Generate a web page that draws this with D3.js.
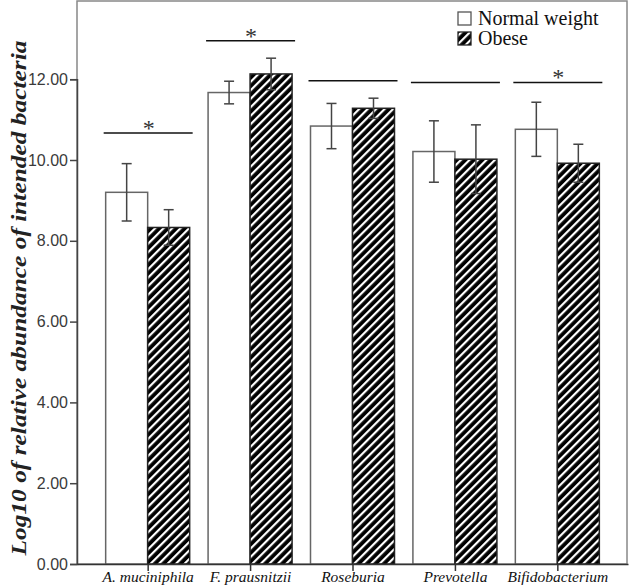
<!DOCTYPE html>
<html><head><meta charset="utf-8">
<script src="https://cdn.jsdelivr.net/npm/d3@7"></script>
<style>html,body{margin:0;padding:0;background:#fff;}svg{display:block;}
.serif{font-family:"Liberation Serif","Times New Roman","DejaVu Serif",serif !important;}
.sans{font-family:"Liberation Sans",Arial,"DejaVu Sans",sans-serif !important;}
</style>
</head><body>
<svg id="chart" width="629" height="588"></svg>
<script>
const categories = ["A. muciniphila", "F. prausnitzii", "Roseburia", "Prevotella", "Bifidobacterium"];
const seriesNames = ["Normal weight", "Obese"];
const normalMean = [9.20, 11.67, 10.84, 10.21, 10.76];
const normalErr  = [0.71, 0.28, 0.56, 0.76, 0.67];
const obeseMean  = [8.33, 12.13, 11.28, 10.02, 9.92];
const obeseErr   = [0.44, 0.39, 0.25, 0.85, 0.47];
const sigLevel   = [10.67, 12.95, 11.96, 11.92, 11.92];
const sigStar    = [true, true, false, false, true];
const yTicks = [0, 2, 4, 6, 8, 10, 12];

(function () {
const svg = d3.select("#chart");
const mLeft = 77, mRight = 627, mTop = 1, mBottom = 564;

const defs = svg.append("defs");
const pat = defs.append("pattern").attr("id", "hatch").attr("patternUnits", "userSpaceOnUse")
  .attr("width", 6).attr("height", 6).attr("patternTransform", "rotate(45)");
pat.append("rect").attr("width", 6).attr("height", 6).attr("fill", "#000");
pat.append("rect").attr("x", 0).attr("width", 2.2).attr("height", 6).attr("fill", "#fff");

const y = d3.scaleLinear().domain([0, 12]).range([mBottom, mBottom - 12 * 40.4]);
const x = d3.scalePoint().domain(categories).range([mLeft, mRight + 1]).padding(0.69);
const bw = 42;

svg.append("rect").attr("x", mLeft).attr("y", mTop).attr("width", mRight - mLeft).attr("height", mBottom - mTop)
  .attr("fill", "none").attr("stroke", "#888").attr("stroke-width", 1.5);

const groups = categories.map((c, i) => ({c, i}));

const bars = [];
groups.forEach(g => {
  bars.push({c: g.c, s: 0, v: normalMean[g.i], e: normalErr[g.i]});
  bars.push({c: g.c, s: 1, v: obeseMean[g.i], e: obeseErr[g.i]});
});
svg.selectAll("rect.bar").data(bars).join("rect").attr("class", "bar")
  .attr("x", d => x(d.c) + (d.s === 0 ? -bw : 0))
  .attr("y", d => y(d.v))
  .attr("width", bw)
  .attr("height", d => y(0) - y(d.v))
  .attr("fill", d => d.s === 0 ? "#fff" : "url(#hatch)")
  .attr("stroke", d => d.s === 0 ? "#666" : "#222")
  .attr("stroke-width", 1.5);

const cx = d => x(d.c) + (d.s === 0 ? -bw / 2 : bw / 2);
const eb = svg.selectAll("g.err").data(bars).join("g").attr("class", "err")
  .attr("stroke", "#444").attr("stroke-width", 1.5);
eb.append("line").attr("x1", cx).attr("x2", cx)
  .attr("y1", d => y(d.v + d.e)).attr("y2", d => y(d.v - d.e));
[1, -1].forEach(sg => {
  eb.append("line").attr("x1", d => cx(d) - 5).attr("x2", d => cx(d) + 5)
    .attr("y1", d => y(d.v + sg * d.e)).attr("y2", d => y(d.v + sg * d.e));
});

groups.forEach(g => {
  svg.append("line").attr("x1", x(g.c) - 44).attr("x2", x(g.c) + 45)
    .attr("y1", y(sigLevel[g.i])).attr("y2", y(sigLevel[g.i]))
    .attr("stroke", "#111").attr("stroke-width", 1.5);
  if (sigStar[g.i]) {
    svg.append("text").attr("class", "serif").attr("x", x(g.c) + 1).attr("y", y(sigLevel[g.i]) + 3)
      .attr("text-anchor", "middle").attr("font-size", 24).attr("fill", "#333").text("*");
  }
});

const yAxis = d3.axisLeft(y).tickValues(yTicks).tickFormat(d3.format(".2f")).tickSize(7).tickPadding(2);
const ya = svg.append("g").attr("transform", `translate(${mLeft},0)`).call(yAxis);
ya.attr("font-family", null);
ya.select(".domain").attr("stroke", "#444").attr("stroke-width", 1.5);
ya.selectAll(".tick line").attr("stroke", "#444").attr("stroke-width", 1.5);
ya.selectAll(".tick text").attr("class", "sans").attr("font-size", 16).attr("fill", "#3a3a3a");

const xAxis = d3.axisBottom(x).tickSize(7).tickPadding(0).tickSizeOuter(0);
const xa = svg.append("g").attr("transform", `translate(0,${mBottom})`).call(xAxis);
xa.attr("font-family", null);
xa.select(".domain").attr("stroke", "#333").attr("stroke-width", 1.5);
xa.selectAll(".tick line").attr("stroke", "#333").attr("stroke-width", 1.5);
xa.selectAll(".tick text").attr("class", "serif").attr("font-style", "italic")
  .attr("font-size", 15.5).attr("fill", "#111");

svg.append("text").attr("class", "serif")
  .attr("transform", `translate(26,298) rotate(-90)`)
  .attr("text-anchor", "middle")
  .attr("font-style", "italic").attr("font-weight", "bold").attr("font-size", 22).attr("fill", "#222")
  .attr("textLength", 515).attr("lengthAdjust", "spacingAndGlyphs")
  .text("Log10 of relative abundance of intended bacteria");

const lg = svg.append("g");
seriesNames.forEach((n, i) => {
  lg.append("rect").attr("x", 458).attr("y", 12 + i * 20).attr("width", 13).attr("height", 13)
    .attr("fill", i === 0 ? "#fff" : "url(#hatch)").attr("stroke", i === 0 ? "#555" : "#222").attr("stroke-width", 1.3);
  lg.append("text").attr("class", "serif").attr("x", 478).attr("y", 25 + i * 20)
    .attr("font-size", 20).attr("fill", "#111").text(n);
});
})();
</script>
</body></html>
